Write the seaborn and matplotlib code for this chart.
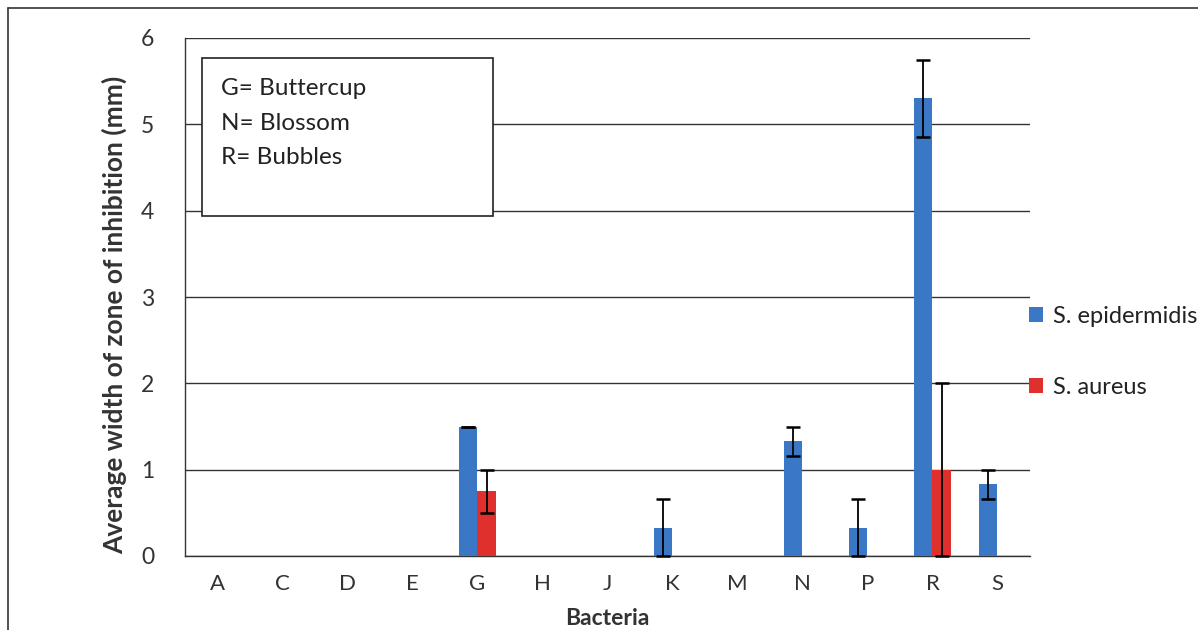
import matplotlib
matplotlib.use("Agg")
import matplotlib.pyplot as plt
import seaborn as sns
import pandas as pd
import numpy as np
from matplotlib.lines import Line2D
from matplotlib.patches import Patch, Rectangle
from matplotlib.ticker import MultipleLocator, FixedLocator

categories = ["A", "C", "D", "E", "G", "H", "J", "K", "M", "N", "P", "R", "S"]
series_names = ["S. epidermidis", "S. aureus"]
epi_means = [0, 0, 0, 0, 1.5, 0, 0, 0.33, 0, 1.33, 0.33, 5.3, 0.83]
epi_err = [0, 0, 0, 0, 0, 0, 0, 0.33, 0, 0.17, 0.33, 0.45, 0.17]
aur_means = [0, 0, 0, 0, 0.75, 0, 0, 0, 0, 0, 0, 1.0, 0]
aur_err = [0, 0, 0, 0, 0.25, 0, 0, 0, 0, 0, 0, 1.0, 0]
box_lines = ["G= Buttercup", "N= Blossom", "R= Bubbles"]

colors = ["#3A78C6", "#E0302E"]

sns.set_style("white")
plt.rcParams['font.family'] = ['Lato', 'DejaVu Sans']

df = pd.DataFrame({
    "Bacteria": categories * 2,
    "value": epi_means + aur_means,
    "series": [series_names[0]] * len(categories) + [series_names[1]] * len(categories),
})

fig = plt.figure(figsize=(11.98, 6.30), dpi=100)
ax = fig.add_axes([185 / 1198, 1 - 556 / 630, 845 / 1198, (556 - 38) / 630])

sns.barplot(data=df, x="Bacteria", y="value", hue="series", order=categories,
            hue_order=series_names, palette=colors, width=0.56, errorbar=None,
            saturation=1, legend=False, ax=ax, zorder=3, linewidth=0)

for cont, means, errs in zip(ax.containers, [epi_means, aur_means], [epi_err, aur_err]):
    for p, m, e in zip(cont.patches, means, errs):
        if m > 0:
            xc = p.get_x() + p.get_width() / 2
            ax.errorbar(xc, m, yerr=e, color="black", capsize=5, capthick=1.8,
                        elinewidth=1.3, zorder=4, fmt="none", clip_on=False)

ax.set_ylim(0, 6)
ax.set_xlim(-0.5, len(categories) - 0.5)
ax.yaxis.set_major_locator(MultipleLocator(1))
ax.yaxis.set_minor_locator(MultipleLocator(0.5))
ax.grid(axis="y", which="major", color="#333333", linewidth=1.0, zorder=0)
ax.set_axisbelow(True)
for s in ["top", "right"]:
    ax.spines[s].set_visible(False)
for s in ["left", "bottom"]:
    ax.spines[s].set_color("#333333")
    ax.spines[s].set_linewidth(1.0)

ax.tick_params(axis="y", which="major", direction="inout", length=12, width=1, color="#333333",
               labelsize=16.5, pad=16, labelcolor="#333333")
ax.tick_params(axis="y", which="minor", direction="inout", length=10, width=1, color="#333333")
ax.set_xticks(range(len(categories)))
ax.set_xticklabels(categories)
ax.tick_params(axis="x", which="major", length=0, labelsize=16, pad=13, labelcolor="#333333")
ax.xaxis.set_minor_locator(FixedLocator(np.arange(-0.5, len(categories), 1.0)))
ax.tick_params(axis="x", which="minor", direction="out", length=7, width=1, color="#333333")

ax.set_xlabel("Bacteria", fontsize=16.5, fontweight="bold", color="#333333", labelpad=10)
ax.set_ylabel("Average width of zone of inhibition (mm)", fontsize=19, fontweight="bold",
              color="#333333")
ax.yaxis.set_label_coords((127 - 185) / 845, (556 - 315) / 518)

# legend-like text box
ax.add_patch(Rectangle((17 / 845, (556 - 216) / 518), (493 - 202) / 845, (216 - 58) / 518,
                       transform=ax.transAxes, facecolor="white", edgecolor="#222222",
                       linewidth=1.2, zorder=5))
ax.text((221 - 185) / 845, (556 - 78) / 518, "\n".join(box_lines), transform=ax.transAxes,
        fontsize=17.5, va="top", ha="left", linespacing=1.8, color="#222222", zorder=6)

handles = [Patch(facecolor=c, edgecolor="none") for c in colors]
fig.legend(handles, series_names, loc="center left", bbox_to_anchor=(1008 / 1198, 1 - 352 / 630),
           frameon=False, fontsize=17, labelspacing=2.1, handlelength=0.6, handleheight=0.6,
           handletextpad=0.4, labelcolor="#222222")

# outer frame
fig.add_artist(Line2D([8 / 1198, 8 / 1198], [0, 1 - 8 / 630], color="#333333", lw=1.2))
fig.add_artist(Line2D([8 / 1198, 1], [1 - 8 / 630, 1 - 8 / 630], color="#333333", lw=1.2))

fig.savefig("out.png", dpi=100)
